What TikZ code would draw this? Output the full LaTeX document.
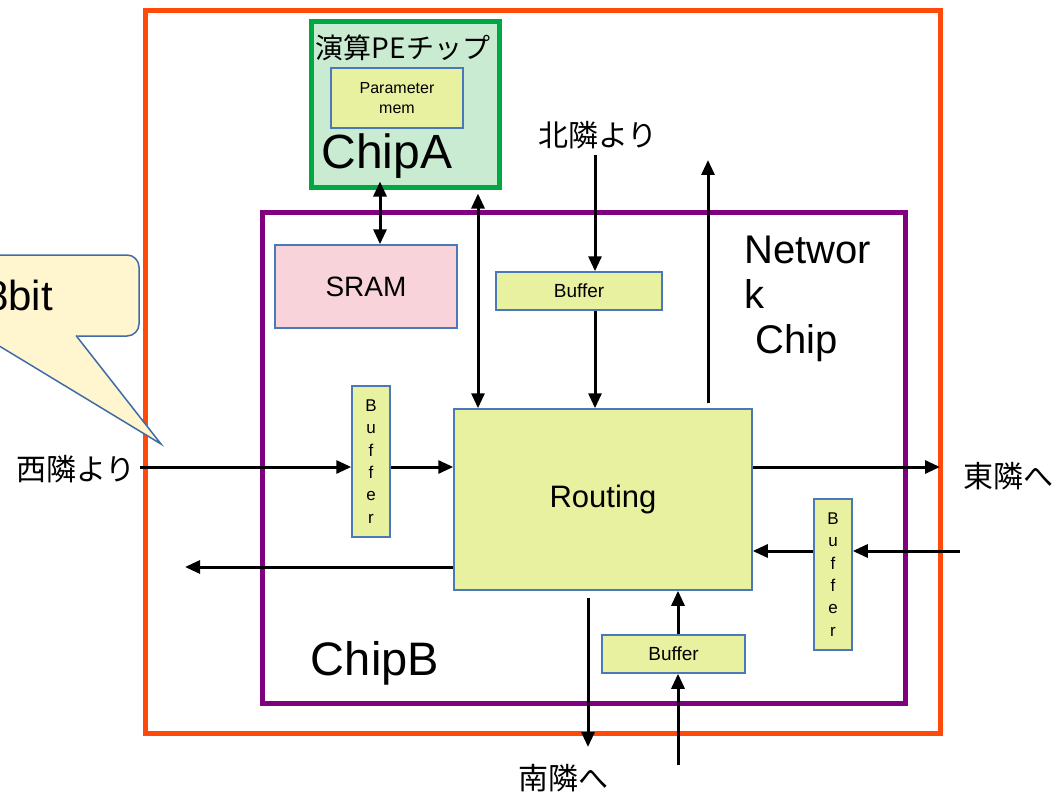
\documentclass[tikz,border=0pt]{standalone}
\usepackage{fontspec}
\setmainfont{Liberation Sans}
\newfontfamily\cjk{Noto Sans CJK JP}
\usepackage{xcolor}
\usetikzlibrary{arrows.meta}

\definecolor{boardred}{HTML}{FF4A0A}
\definecolor{chipgreen}{HTML}{00A844}
\definecolor{chipgreenfill}{HTML}{C8EBD2}
\definecolor{chippurple}{HTML}{800080}
\definecolor{unitfill}{HTML}{E8F1A0}
\definecolor{unitline}{HTML}{4A78B8}
\definecolor{sramfill}{HTML}{F8D3DA}
\definecolor{notefill}{HTML}{FFF5CE}
\definecolor{noteline}{HTML}{3F6CA6}

\begin{document}
\begin{tikzpicture}[
  x=1pt, y=-1pt,
  >={Triangle[length=15pt,width=13pt]},
  chip/.style={draw, line width=5pt, inner sep=0pt},
  unit/.style={
    draw=unitline,
    line width=1.5pt,
    fill=unitfill,
    inner sep=0pt,
    align=center
  },
  vbuf/.style={unit, minimum width=38pt, minimum height=151pt,
    font=\fontsize{17}{22.4}\selectfont},
  hbuf/.style={unit, minimum height=38pt, font=\fontsize{19}{22}\selectfont},
  jlabel/.style={font=\cjk\fontsize{30}{34}\selectfont, inner sep=0pt},
  biglabel/.style={font=\fontsize{48}{52}\selectfont, inner sep=0pt},
  link/.style={->, line width=3pt},
  duplex/.style={<->, line width=3pt}
]

\clip (0,0) rectangle (1058,797);

\node[chip, draw=boardred, minimum width=795pt, minimum height=722pt] (board)
  at (542.5,372) {};

\node[chip, draw=chipgreen, fill=chipgreenfill, minimum width=188pt,
  minimum height=166pt] (chipa) at (405,105) {};
\node[unit, minimum width=132pt, minimum height=60pt,
  font=\fontsize{16}{20}\selectfont] (parammem) at (397,98)
  {Parameter\\mem};
\node[font=\cjk\fontsize{28}{32}\selectfont, inner sep=0pt] (pelabel)
  at (403,48) {演算PEチップ};
\node[biglabel] (chipalabel) at (387,156) {ChipA};

\node[chip, draw=chippurple, minimum width=643pt, minimum height=491pt] (chipb)
  at (583.5,457.5) {};
\node[biglabel, font=\fontsize{47}{52}\selectfont] (chipblabel) at (375,663) {ChipB};
\node[anchor=west, align=left, inner sep=0pt,
  font=\fontsize{40}{45}\selectfont] (netlabel) at (744,299)
  {Networ\\k\\\hspace*{0.28em}Chip};

\node[unit, fill=sramfill, minimum width=182pt, minimum height=83pt,
  font=\fontsize{28}{32}\selectfont] (sram) at (366,286.5) {SRAM};
\node[hbuf, minimum width=166pt] (bufn) at (579,291) {Buffer};
\node[vbuf] (bufw) at (371,461.5) {B\\u\\f\\f\\e\\r};
\node[unit, minimum width=298pt, minimum height=181pt,
  font=\fontsize{31}{36}\selectfont] (routing) at (603,499.5) {Routing};
\node[vbuf] (bufe) at (833,574.5) {B\\u\\f\\f\\e\\r};
\node[hbuf, minimum width=143pt] (bufs) at (673.5,654) {Buffer};

\node[draw=noteline, line width=1.5pt, fill=notefill, rounded corners=12pt,
  minimum width=240pt, minimum height=81pt, inner sep=0pt,
  font=\fontsize{42}{46}\selectfont] (bitnote) at (19,295.5) {8bit};
\fill[notefill] (-18,334) -- (161,444) -- (76,334) -- cycle;
\draw[noteline, line width=1.5pt, line join=miter]
  (-18,335.5) -- (161,444) -- (76,335.5);

\node[jlabel] (westlabel) at (76,469) {西隣より};
\node[jlabel] (eastlabel) at (1008,476) {東隣へ};
\node[jlabel] (northlabel) at (598,135) {北隣より};
\node[jlabel] (southlabel) at (563,778) {南隣へ};

\coordinate (westin) at (140,467);
\coordinate (westout) at (185,567);
\coordinate (eastout) at (940,467);
\coordinate (eastin) at (960,551);
\coordinate (northin) at (595,155);
\coordinate (northout) at (708,160);
\coordinate (southout) at (588,747);
\coordinate (southin) at (678,765);

\draw[duplex] ([xshift=14pt]sram.north)
  -- ([xshift=14pt,yshift=9pt]sram.north |- chipa.south);
\draw[duplex] ([xshift=-125pt]routing.north)
  -- ([xshift=-125pt,yshift=-3pt]routing.north |- chipa.south);

\draw[link] (westin) -- (westin -| bufw.west);
\draw[link] (westin -| bufw.east) -- (westin -| routing.west);
\draw[link] (routing.west |- westout) -- (westout);

\draw[link] (routing.east |- eastout) -- (eastout);
\draw[link] (eastin) -- (eastin -| bufe.east);
\draw[link] (eastin -| bufe.west) -- (eastin -| routing.east);

\draw[link] (northin) -- (northin |- bufn.north);
\draw[link] (northin |- bufn.south) -- (northin |- routing.north);
\draw[link] ([yshift=5pt]northout |- routing.north) -- (northout);

\draw[link, shorten <=7pt] (southout |- routing.south) -- (southout);
\draw[link] (southin) -- (southin |- bufs.south);
\draw[link] (southin |- bufs.north) -- (southin |- routing.south);

\end{tikzpicture}
\end{document}
